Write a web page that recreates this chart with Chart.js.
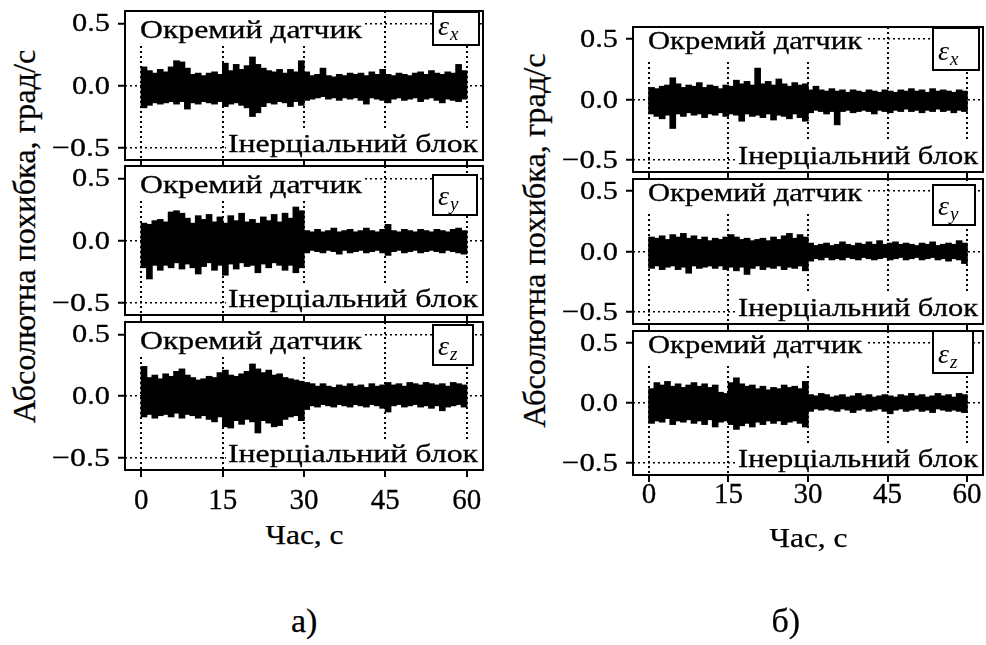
<!DOCTYPE html>
<html>
<head>
<meta charset="utf-8">
<script src="https://cdn.jsdelivr.net/npm/chart.js@4.4.1/dist/chart.umd.min.js"></script>
<style>
  html, body { margin: 0; padding: 0; background: #fff; }
  body { width: 986px; height: 645px; position: relative; overflow: hidden; font-family: "Liberation Serif", serif; color: #000; }
  canvas { position: absolute; }
  .txt { position: absolute; white-space: nowrap; line-height: 1; transform-origin: 50% 50%; -webkit-text-stroke: 0.25px #000; }
</style>
</head>
<body>
<script>
// time bins, s (one bar = one second of the record)
const seconds = Array.from({ length: 60 }, (_, i) => i + 0.5);
const xTicks = [0, 15, 30, 45, 60];
const yTicks = [-0.5, 0, 0.5];
const yTickLabels = ['\u22120.5', '0.0', '0.5'];
const topLabel = 'Окремий датчик';
const bottomLabel = 'Інерціальний блок';
const yTitle = 'Абсолютна похибка, град/с';
const xTitle = 'Час, с';

// а) upper / lower envelope of the error, grad/s
const aXHi = [0.15,0.12,0.10,0.13,0.11,0.15,0.20,0.19,0.14,0.09, 0.10,0.08,0.10,0.11,0.09,0.18,0.12,0.17,0.13,0.16,
              0.23,0.17,0.14,0.12,0.11,0.13,0.10,0.13,0.11,0.20, 0.11,0.08,0.09,0.14,0.08,0.07,0.09,0.08,0.10,0.09,
              0.10,0.08,0.11,0.09,0.13,0.09,0.08,0.10,0.09,0.08, 0.10,0.11,0.09,0.12,0.10,0.09,0.11,0.10,0.17,0.12];
const aXLo = [-0.18,-0.16,-0.14,-0.15,-0.14,-0.13,-0.15,-0.13,-0.19,-0.14, -0.15,-0.13,-0.14,-0.15,-0.13,-0.17,-0.15,-0.14,-0.16,-0.18,
              -0.25,-0.22,-0.17,-0.14,-0.15,-0.13,-0.14,-0.17,-0.13,-0.16, -0.12,-0.11,-0.10,-0.09,-0.11,-0.10,-0.12,-0.10,-0.11,-0.10,
              -0.12,-0.15,-0.10,-0.11,-0.12,-0.14,-0.11,-0.10,-0.12,-0.11, -0.10,-0.13,-0.11,-0.10,-0.12,-0.14,-0.11,-0.12,-0.13,-0.11];
const aYHi = [0.14,0.13,0.16,0.17,0.15,0.23,0.24,0.22,0.18,0.14, 0.20,0.17,0.21,0.15,0.19,0.14,0.20,0.16,0.22,0.15,
              0.17,0.14,0.19,0.16,0.21,0.15,0.22,0.18,0.27,0.24, 0.08,0.07,0.09,0.07,0.08,0.10,0.07,0.08,0.09,0.07,
              0.08,0.10,0.08,0.07,0.09,0.13,0.08,0.07,0.09,0.08, 0.07,0.09,0.08,0.07,0.09,0.08,0.07,0.09,0.10,0.08];
const aYLo = [-0.22,-0.31,-0.20,-0.24,-0.20,-0.22,-0.18,-0.23,-0.19,-0.22, -0.27,-0.21,-0.18,-0.24,-0.20,-0.28,-0.19,-0.23,-0.18,-0.21,
              -0.20,-0.26,-0.19,-0.22,-0.18,-0.20,-0.24,-0.20,-0.26,-0.22, -0.10,-0.08,-0.09,-0.10,-0.08,-0.09,-0.11,-0.08,-0.10,-0.09,
              -0.08,-0.10,-0.09,-0.08,-0.10,-0.12,-0.09,-0.08,-0.10,-0.09, -0.08,-0.10,-0.09,-0.08,-0.09,-0.10,-0.08,-0.09,-0.10,-0.11];
const aZHi = [0.24,0.15,0.17,0.14,0.18,0.16,0.20,0.22,0.17,0.15, 0.13,0.14,0.16,0.15,0.19,0.21,0.17,0.16,0.18,0.20,
              0.26,0.22,0.19,0.21,0.17,0.18,0.15,0.14,0.13,0.12, 0.11,0.10,0.08,0.10,0.08,0.07,0.09,0.08,0.10,0.08,
              0.09,0.07,0.10,0.08,0.09,0.11,0.09,0.10,0.08,0.11, 0.10,0.09,0.11,0.10,0.09,0.10,0.08,0.11,0.10,0.09];
const aZLo = [-0.17,-0.15,-0.18,-0.16,-0.15,-0.17,-0.14,-0.18,-0.15,-0.16, -0.18,-0.16,-0.19,-0.21,-0.17,-0.25,-0.26,-0.20,-0.23,-0.19,
              -0.21,-0.30,-0.20,-0.22,-0.25,-0.24,-0.19,-0.17,-0.16,-0.20, -0.11,-0.08,-0.09,-0.07,-0.08,-0.09,-0.07,-0.08,-0.09,-0.07,
              -0.08,-0.09,-0.07,-0.08,-0.10,-0.13,-0.08,-0.07,-0.09,-0.08, -0.07,-0.09,-0.08,-0.10,-0.08,-0.12,-0.09,-0.08,-0.07,-0.09];

// б) upper / lower envelope of the error, grad/s
const bXHi = [0.10,0.09,0.11,0.12,0.18,0.13,0.10,0.12,0.11,0.14, 0.10,0.12,0.11,0.09,0.12,0.11,0.16,0.13,0.15,0.12,
              0.26,0.13,0.15,0.12,0.17,0.13,0.11,0.14,0.12,0.13, 0.08,0.11,0.08,0.07,0.09,0.07,0.08,0.06,0.08,0.07,
              0.06,0.08,0.07,0.06,0.08,0.07,0.06,0.08,0.07,0.09, 0.07,0.08,0.06,0.09,0.07,0.08,0.07,0.06,0.08,0.07];
const bXLo = [-0.12,-0.14,-0.16,-0.13,-0.24,-0.12,-0.14,-0.11,-0.13,-0.12, -0.15,-0.12,-0.13,-0.11,-0.14,-0.12,-0.13,-0.18,-0.12,-0.14,
              -0.13,-0.15,-0.12,-0.17,-0.13,-0.14,-0.16,-0.12,-0.15,-0.18, -0.11,-0.09,-0.10,-0.12,-0.10,-0.21,-0.10,-0.09,-0.11,-0.10,
              -0.09,-0.10,-0.12,-0.09,-0.10,-0.11,-0.09,-0.10,-0.08,-0.10, -0.09,-0.11,-0.09,-0.10,-0.08,-0.10,-0.09,-0.11,-0.09,-0.10];
const bYHi = [0.12,0.11,0.13,0.10,0.14,0.12,0.15,0.11,0.13,0.10, 0.12,0.09,0.11,0.10,0.12,0.14,0.12,0.10,0.11,0.09,
              0.10,0.11,0.09,0.12,0.10,0.13,0.15,0.11,0.14,0.12, 0.07,0.05,0.06,0.07,0.05,0.06,0.08,0.06,0.05,0.07,
              0.06,0.08,0.06,0.09,0.06,0.07,0.08,0.06,0.07,0.06, 0.05,0.07,0.06,0.08,0.05,0.06,0.07,0.06,0.09,0.07];
const bYLo = [-0.14,-0.12,-0.15,-0.13,-0.12,-0.15,-0.13,-0.18,-0.12,-0.14, -0.13,-0.12,-0.14,-0.12,-0.15,-0.13,-0.16,-0.13,-0.19,-0.14,
              -0.12,-0.15,-0.13,-0.14,-0.12,-0.15,-0.13,-0.14,-0.12,-0.16, -0.08,-0.06,-0.07,-0.05,-0.07,-0.06,-0.07,-0.05,-0.06,-0.07,
              -0.05,-0.06,-0.07,-0.06,-0.05,-0.07,-0.06,-0.05,-0.07,-0.06, -0.05,-0.07,-0.06,-0.05,-0.07,-0.06,-0.08,-0.06,-0.07,-0.10];
const bZHi = [0.12,0.17,0.15,0.18,0.14,0.16,0.13,0.15,0.17,0.14, 0.16,0.13,0.15,0.09,0.08,0.17,0.21,0.16,0.14,0.15,
              0.12,0.14,0.11,0.13,0.12,0.15,0.13,0.14,0.12,0.18, 0.07,0.06,0.08,0.07,0.05,0.06,0.07,0.05,0.06,0.08,
              0.06,0.07,0.05,0.06,0.07,0.06,0.05,0.07,0.06,0.08, 0.06,0.07,0.05,0.06,0.08,0.06,0.07,0.05,0.08,0.07];
const bZLo = [-0.17,-0.15,-0.16,-0.13,-0.18,-0.15,-0.16,-0.14,-0.17,-0.15, -0.18,-0.14,-0.20,-0.16,-0.15,-0.18,-0.22,-0.19,-0.17,-0.20,
              -0.16,-0.18,-0.15,-0.17,-0.15,-0.18,-0.16,-0.15,-0.17,-0.20, -0.07,-0.05,-0.06,-0.05,-0.06,-0.07,-0.05,-0.06,-0.08,-0.06,
              -0.05,-0.07,-0.06,-0.05,-0.07,-0.09,-0.06,-0.05,-0.07,-0.06, -0.05,-0.07,-0.06,-0.08,-0.05,-0.06,-0.07,-0.06,-0.07,-0.08];

const FONT = '"Liberation Serif", serif';

// page layout of the two figures (plot frames in px)
const groups = [
  { left: 125, right: 483, topW: 222, botW: 250, botX: 103, topBase: 27, xLabBase: 39, tickW: [58, 38, 38],
    xTitleBase: 545, yTitleX: 24, yTitleY: 236, yTitleLen: 373, caption: 'а)', capX: 304,
    panels: [
      { top: 11,  h: 149, sub: 'x', hi: aXHi, lo: aXLo, box: [50, 1, 46, 33] },
      { top: 166, h: 149, sub: 'y', hi: aYHi, lo: aYLo, box: [50, 9, 44, 40] },
      { top: 322, h: 148, sub: 'z', hi: aZHi, lo: aZLo, box: [50, 3, 40, 40] }
    ] },
  { left: 633, right: 983, topW: 214, botW: 240, botX: 105, topBase: 22, xLabBase: 28, tickW: [56, 38, 38],
    xTitleBase: 548, yTitleX: 534, yTitleY: 240, yTitleLen: 374, caption: 'б)', capX: 786,
    panels: [
      { top: 27,  h: 145, sub: 'x', hi: bXHi, lo: bXLo, box: [50, 1, 46, 42] },
      { top: 179, h: 145, sub: 'y', hi: bYHi, lo: bYLo, box: [50, 6, 42, 40] },
      { top: 331, h: 144, sub: 'z', hi: bZHi, lo: bZLo, box: [50, 0, 40, 42] }
    ] }
];

// text squeezed / stretched to a given width, slightly emboldened like the scan
function fitText(ctx, text, x, y, size, width, align, sx) {
  ctx.font = size + 'px ' + FONT;
  const k = width ? width / ctx.measureText(text).width : (sx || 1);
  ctx.save();
  ctx.translate(x, y);
  ctx.scale(k, 1);
  ctx.textAlign = align || 'left';
  ctx.textBaseline = 'alphabetic';
  ctx.fillText(text, 0, 0);
  ctx.lineWidth = 0.3;
  ctx.strokeStyle = '#000';
  ctx.strokeText(text, 0, 0);
  ctx.restore();
}

const decor = {
  id: 'decor',
  afterDatasetsDraw(chart, args, o) {
    const { ctx, chartArea: a } = chart;
    const xs = chart.scales.x, ys = chart.scales.y;
    ctx.save();

    // labels sit on white, hiding the dotted grid
    ctx.fillStyle = '#fff';
    ctx.fillRect(a.left + 1, a.top + 1, o.topW + 17, 31);
    ctx.fillRect(a.left + o.botX - 2, a.bottom - 31, a.right - a.left - o.botX + 2, 31);
    ctx.fillStyle = '#000';
    fitText(ctx, topLabel, a.left + 15, a.top + o.topBase, 25, o.topW);
    fitText(ctx, bottomLabel, a.right - 5, a.bottom - 8, 25, o.botW, 'right');

    // epsilon box
    const [bx, by, bw, bh] = o.box;
    const x0 = a.right - bx, y0 = a.top + by;
    ctx.fillStyle = '#fff';
    ctx.fillRect(x0, y0, bw, bh);
    ctx.strokeStyle = '#000';
    ctx.lineWidth = 2;
    ctx.strokeRect(x0, y0, bw, bh);
    ctx.fillStyle = '#000';
    ctx.textAlign = 'left';
    ctx.textBaseline = 'alphabetic';
    ctx.font = 'italic 28px ' + FONT;
    ctx.fillText('ε', x0 + 5, y0 + bh - 10);
    const ew = ctx.measureText('ε').width;
    ctx.font = 'italic 19px ' + FONT;
    ctx.fillText(o.sub, x0 + 6 + ew, y0 + bh - 5);

    // frame
    ctx.lineWidth = 2;
    ctx.strokeRect(Math.round(a.left), Math.round(a.top), Math.round(a.right - a.left), Math.round(a.bottom - a.top));

    // tick labels
    yTicks.forEach((v, i) => {
      fitText(ctx, yTickLabels[i], a.left - 15, ys.getPixelForValue(v) + 8, 26, o.tickW[i], 'right');
    });
    if (o.last) {
      xTicks.forEach(v => {
        fitText(ctx, String(v), xs.getPixelForValue(v), a.bottom + o.xLabBase, 29, 0, 'center', 1);
      });
    }
    ctx.restore();
  }
};

function makePanel(g, p, last) {
  const padL = 80, padR = 4, padT = 2, padB = last ? 50 : 8;
  const w = (g.right - g.left) + padL + padR;
  const h = p.h + padT + padB;
  const cv = document.createElement('canvas');
  cv.width = w;
  cv.height = h;
  cv.style.left = (g.left - padL) + 'px';
  cv.style.top = (p.top - padT) + 'px';
  cv.style.width = w + 'px';
  cv.style.height = h + 'px';
  document.body.appendChild(cv);

  const points = seconds.map((t, i) => ({ x: t, y: [p.lo[i], p.hi[i]] }));

  new Chart(cv, {
    type: 'bar',
    data: {
      datasets: [{
        data: points,
        backgroundColor: '#000',
        borderWidth: 0,
        barThickness: 6,
        grouped: false
      }]
    },
    options: {
      responsive: false,
      animation: false,
      devicePixelRatio: 1,
      events: [],
      layout: { padding: { left: 0, right: padR, top: padT, bottom: 0 } },
      plugins: {
        legend: { display: false },
        tooltip: { enabled: false },
        decor: { topW: g.topW, botW: g.botW, botX: g.botX, topBase: g.topBase, xLabBase: g.xLabBase,
                 tickW: g.tickW, box: p.box, sub: p.sub, last: last }
      },
      scales: {
        x: {
          type: 'linear', min: -3, max: 63, offset: false,
          afterBuildTicks: s => { s.ticks = xTicks.map(v => ({ value: v })); },
          afterFit: s => { s.height = padB; },
          ticks: { display: false },
          grid: { offset: false, color: '#000', lineWidth: 2, tickLength: 7, tickWidth: 2, tickColor: '#000' },
          border: { display: false, dash: [2, 3] }
        },
        y: {
          min: -0.6, max: 0.6,
          afterBuildTicks: s => { s.ticks = yTicks.map(v => ({ value: v })); },
          afterFit: s => { s.width = padL; },
          ticks: { display: false },
          grid: { color: '#000', lineWidth: 1.5, tickLength: 7, tickWidth: 2, tickColor: '#000' },
          border: { display: false, dash: [2, 3] }
        }
      }
    },
    plugins: [decor]
  });
}

// html text, centred on (cx, baseline) and fitted to a width
function addText(text, size, cx, base, width, rotate) {
  const el = document.createElement('div');
  el.className = 'txt';
  el.textContent = text;
  el.style.fontSize = size + 'px';
  document.body.appendChild(el);
  const w = el.offsetWidth;
  const k = width ? width / w : 1;
  el.style.left = (cx - w / 2) + 'px';
  if (rotate) {
    el.style.top = (base - size / 2) + 'px';
    el.style.transform = 'rotate(-90deg) scaleX(' + k + ')';
  } else {
    el.style.top = (base - 0.84 * size) + 'px';
    el.style.transform = 'scaleX(' + k + ')';
  }
}

groups.forEach(g => {
  g.panels.forEach((p, i) => makePanel(g, p, i === g.panels.length - 1));
  const x30 = g.left + (30 + 3) / 66 * (g.right - g.left);
  addText(xTitle, 27, x30, g.xTitleBase, 78, false);
  addText(yTitle, 31, g.yTitleX, g.yTitleY, g.yTitleLen, true);
  addText(g.caption, 34, g.capX, 633, 0, false);
});
</script>
</body>
</html>
